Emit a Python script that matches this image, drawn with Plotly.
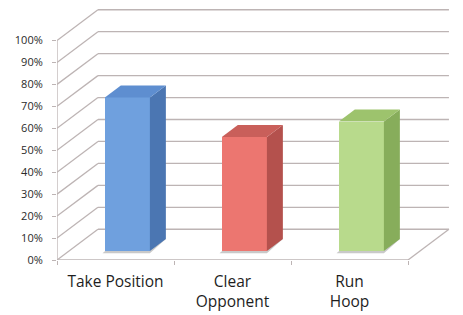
import plotly.graph_objects as go

# ---- data ----
categories = ["Take Position", "Clear<br>Opponent", "Run<br>Hoop"]
values = [0.70, 0.52, 0.59]
y_ticks = [i / 10 for i in range(11)]
y_tick_labels = [f"{i * 10}%" for i in range(11)]

front_colors = ["#6fa0de", "#ec7670", "#b8da8c"]
side_colors = ["#4b76b2", "#b4514d", "#87ad5b"]
top_colors = ["#5e8ed0", "#c95f5a", "#9dc36d"]
grid_color = "#bdb4b4"

# ---- 3D projection geometry (axis units) ----
DX, DY = 0.35, 0.14      # full floor depth offset
F0, F1 = 0.29, 0.68      # bar front/back depth fraction
BW = 0.385               # bar width
xpos = list(range(len(values)))
n = len(values)

fig = go.Figure()

# front faces
fig.add_trace(go.Bar(
    x=xpos, y=values, base=F0 * DY, width=BW, offset=-BW / 2 + F0 * DX,
    marker=dict(color=front_colors, line=dict(width=0)),
    showlegend=False, hoverinfo="skip"))

# side and top faces
for i, v in enumerate(values):
    xl = xpos[i] - BW / 2 + F0 * DX
    xr = xl + BW
    b = F0 * DY
    t = v + F0 * DY
    ddx, ddy = (F1 - F0) * DX, (F1 - F0) * DY
    fig.add_trace(go.Scatter(
        x=[xr, xr + ddx, xr + ddx, xr, xr],
        y=[b, b + ddy, t + ddy, t, b],
        fill="toself", fillcolor=side_colors[i], mode="none",
        hoverinfo="skip", showlegend=False))
    fig.add_trace(go.Scatter(
        x=[xl, xr, xr + ddx, xl + ddx, xl],
        y=[t, t, t + ddy, t + ddy, t],
        fill="toself", fillcolor=top_colors[i], mode="none",
        hoverinfo="skip", showlegend=False))

# walls / floor gridlines
x0 = -0.5
x1 = n - 0.5
line = dict(color=grid_color, width=1.3)
for v in y_ticks:
    fig.add_shape(type="line", x0=x0, y0=v, x1=x0 + DX, y1=v + DY,
                  xref="x", yref="y", line=line, layer="below")
    fig.add_shape(type="line", x0=x0 + DX, y0=v + DY, x1=x1 + DX, y1=v + DY,
                  xref="x", yref="y", line=line, layer="below")
fig.add_shape(type="line", x0=x0, y0=0, x1=x1, y1=0, xref="x", yref="y",
              line=line, layer="below")
fig.add_shape(type="line", x0=x1, y0=0, x1=x1 + DX, y1=DY, xref="x", yref="y",
              line=line, layer="below")
fig.add_shape(type="line", x0=x0, y0=0, x1=x0, y1=1.0, xref="x", yref="y",
              line=line, layer="below")

# floor shadows (below the bars)
for i, v in enumerate(values):
    xl = xpos[i] - BW / 2 + F0 * DX
    xr = xl + BW
    b = F0 * DY
    ddx, ddy = (F1 - F0) * DX, (F1 - F0) * DY
    e = 0.01
    path = (f"M {xl - 2 * e} {b - e} L {xr} {b - e} L {xr + ddx} {b + ddy} "
            f"L {xl + ddx - e} {b + ddy} Z")
    fig.add_shape(type="path", path=path, xref="x", yref="y",
                  fillcolor="rgba(100,100,100,0.35)", line=dict(width=0),
                  layer="below")

# page body has an 8px margin; size the figure to fit the window
W, H = 455, 307
ml, mr, mt, mb = 49, 12, 0, 55
px_per_x = 117.0
y_top = 1.148

fig.update_layout(
    width=W, height=H,
    margin=dict(l=ml, r=mr, t=mt, b=mb, autoexpand=False),
    paper_bgcolor="white", plot_bgcolor="white",
    showlegend=False,
    bargap=0,
    xaxis=dict(
        range=[x0, x0 + (W - ml - mr) / px_per_x],
        tickvals=xpos, ticktext=categories,
        ticks="", showgrid=False, zeroline=False, showline=False,
        ticklabelstandoff=10,
        tickfont=dict(family="Open Sans", size=15.5, color="#1e1e1e"),
        minor=dict(tickvals=[x0 + k for k in range(n + 1)], ticks="outside",
                   ticklen=4, tickcolor=grid_color, tickwidth=1.3, showgrid=False),
    ),
    yaxis=dict(
        range=[0, y_top],
        tickvals=y_ticks, ticktext=y_tick_labels,
        ticks="outside", ticklen=4, tickcolor=grid_color, tickwidth=1.3,
        showgrid=False, zeroline=False, showline=False,
        ticklabelstandoff=7,
        tickfont=dict(family="Open Sans", size=11, color="#2a2a2a"),
    ),
)

fig.write_html("out.html")
